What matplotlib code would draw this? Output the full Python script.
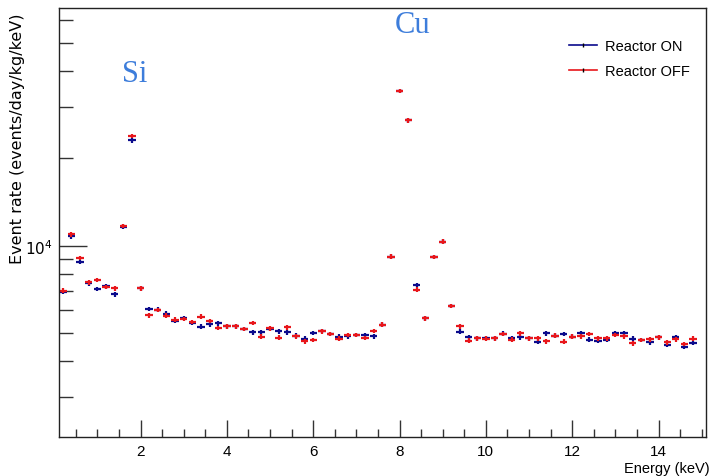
import numpy as np
import matplotlib.pyplot as plt
from matplotlib.lines import Line2D
from matplotlib.ticker import LogLocator, NullFormatter, MultipleLocator

# bin centres (keV), 0.2 keV bins
energy = np.round(np.arange(0.2, 14.81, 0.2), 1)

rate_on = [6930, 10780, 8790, 7420, 7090, 7240, 6800, 11650, 23090, 7130,
           6050, 6020, 5830, 5505, 5630, 5410, 5257, 5360, 5400, 5270,
           5270, 5161, 5028, 5028, 5161, 5068, 5028, 4895, 4780, 5000,
           5090, 4960, 4857, 4872, 4920, 4930, 4872, 5341, 9165, 34230,
           27060, 7320, 5620, 9140, 10323, 6209, 5052, 4832, 4790, 4800,
           4790, 4977, 4790, 4832, 4790, 4667, 4990, 4895, 4960, 4857,
           5000, 4742, 4704, 4731, 4990, 5000, 4780, 4731, 4645, 4832,
           4546, 4832, 4485, 4616]

rate_off = [7000, 10950, 9070, 7480, 7614, 7203, 7130, 11693, 23950, 7130,
            5754, 6000, 5740, 5557, 5590, 5458, 5700, 5505, 5203, 5270,
            5270, 5161, 5413, 4857, 5190, 4819, 5232, 4872, 4682, 4731,
            5068, 4960, 4780, 4920, 4920, 4800, 5090, 5341, 9165, 34230,
            27060, 7053, 5620, 9140, 10323, 6209, 5270, 4704, 4790, 4780,
            4790, 4960, 4742, 4990, 4790, 4790, 4680, 4895, 4667, 4857,
            4872, 4960, 4790, 4790, 4920, 4872, 4607, 4731, 4760, 4832,
            4645, 4760, 4583, 4780]

blue = '#0b0b8c'
red = '#e8161b'

fig = plt.figure(figsize=(7.11, 4.77), dpi=100)
ax = fig.add_axes([0.0823, 0.0818, 0.9107, 0.8983])

for y, c in [(rate_on, blue), (rate_off, red)]:
    y = np.array(y, dtype=float)
    ax.errorbar(energy, y, xerr=0.085, yerr=0.018 * y, fmt='none',
                ecolor=c, elinewidth=1.6, capsize=0)

ax.set_yscale('log')
ax.set_xlim(0.1, 15.1)
ax.set_ylim(2190, 65800)

ax.xaxis.set_major_locator(MultipleLocator(2))
ax.xaxis.set_minor_locator(MultipleLocator(0.5))
ax.yaxis.set_major_locator(LogLocator(base=10, numticks=10))
ax.yaxis.set_minor_locator(LogLocator(base=10, subs=np.arange(2, 10), numticks=20))
ax.yaxis.set_minor_formatter(NullFormatter())

ax.tick_params(axis='both', which='both', direction='in', top=False, right=False,
               color='#333333', width=1)
ax.tick_params(axis='x', which='major', length=12, labelsize=11, pad=5)
ax.tick_params(axis='x', which='minor', length=6)
ax.tick_params(axis='y', which='major', length=20, labelsize=11, pad=4)
ax.tick_params(axis='y', which='minor', length=10)
for lab in ax.get_xticklabels():
    lab.set_family('Liberation Sans')
for s in ax.spines.values():
    s.set_color('#222222')
    s.set_linewidth(1.0)

ax.set_xlabel('Energy (keV)', fontsize=10.5, family='Liberation Sans')
ax.xaxis.set_label_coords(1.005, -0.055)
ax.xaxis.label.set_horizontalalignment('right')
ax.set_ylabel('Event rate (events/day/kg/keV)', fontsize=11.5)
ax.yaxis.set_label_coords(-0.064, 0.99)
ax.yaxis.label.set_verticalalignment('center')
ax.yaxis.label.set_horizontalalignment('right')

label_col = '#3d7ddb'
ax.text(1.86, 36900, 'Si', color=label_col, fontsize=22, family='Liberation Serif',
        ha='center', va='baseline')
ax.text(8.3, 54600, 'Cu', color=label_col, fontsize=22, family='Liberation Serif',
        ha='center', va='baseline')

handles = [Line2D([], [], color=blue, lw=1.2, marker='|', markersize=3,
                  markeredgecolor='black', markevery=[1]),
           Line2D([], [], color=red, lw=1.2, marker='|', markersize=3,
                  markeredgecolor='black', markevery=[1])]
ax.legend(handles, ['Reactor ON', 'Reactor OFF'], loc='upper right',
          bbox_to_anchor=(0.996, 0.96), frameon=False,
          prop={'family': 'Liberation Sans', 'size': 10.5},
          handlelength=1.9, handletextpad=0.6, labelspacing=0.8)

fig.savefig('out.png', dpi=100)
